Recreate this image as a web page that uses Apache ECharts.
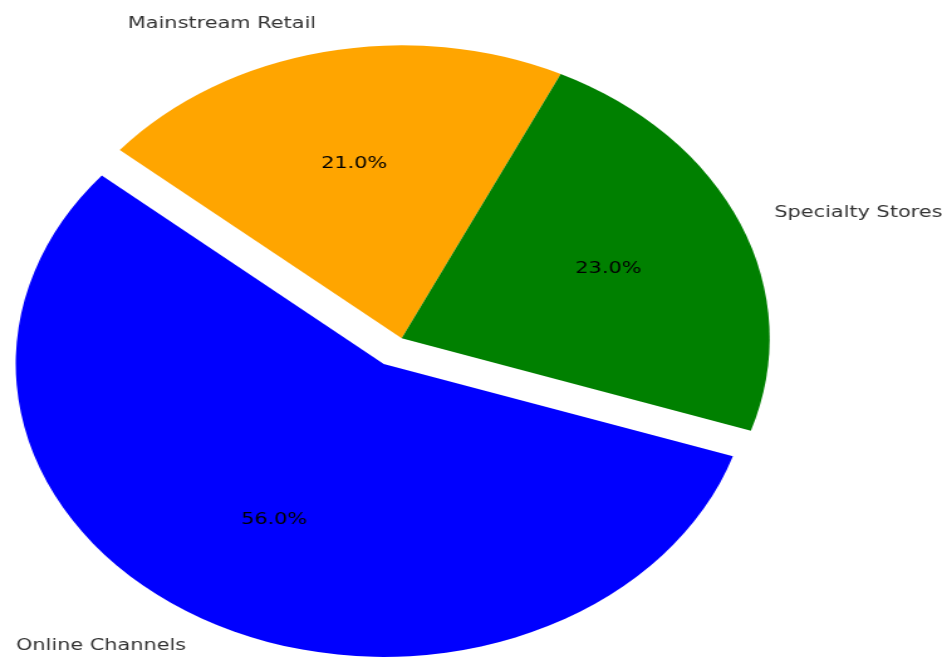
<!DOCTYPE html>
<html>
<head>
<meta charset="utf-8">
<script src="https://cdn.jsdelivr.net/npm/echarts@6/dist/echarts.min.js"></script>
<style>
  html, body { margin: 0; padding: 0; background: #fff; overflow: hidden; width: 942px; height: 657px; }
  /* the reference pie is an ellipse, so the chart is stretched sideways */
  #chart { position: absolute; left: 0; top: 0; width: 800px; height: 657px; transform: scaleX(1.256); transform-origin: 0 0; }
</style>
</head>
<body>
<div id="chart"></div>
<script>
  var categories = ['Mainstream Retail', 'Specialty Stores', 'Online Channels']
  var shares = [21, 23, 56]
  var colors = ['#ffa500', '#008000', '#0000ff']
  var exploded = [false, false, true]

  var R = 293 // pie radius
  var center = [319.8, 338.3]
  var offset = 0.1 * R // explode

  var total = shares.reduce(function (a, b) { return a + b }, 0)

  function items (transparent) {
    return categories.map(function (name, i) {
      return {
        name: name,
        value: shares[i],
        selected: exploded[i],
        itemStyle: {color: transparent ? 'rgba(0,0,0,0)' : colors[i]}
      }
    })
  }

  var chart = echarts.init(document.getElementById('chart'))
  chart.setOption({
    animation: false,
    series: [
      { // slices + names outside (1.1 R)
        type: 'pie',
        center: center,
        radius: R,
        startAngle: 140,
        clockwise: true,
        selectedMode: 'single',
        selectedOffset: offset,
        avoidLabelOverlap: false,
        emphasis: {disabled: true},
        label: {
          show: true,
          position: 'outside',
          distanceToLabelLine: 0,
          bleedMargin: 0,
          overflow: 'none',
          fontFamily: 'DejaVu Sans',
          fontSize: 16.6,
          color: '#333'
        },
        labelLine: {show: false, length: 0.1 * R, length2: 0},
        data: items(false)
      },
      { // percentages at 0.6 R (inside label of a 1.2 R ring)
        type: 'pie',
        silent: true,
        center: center,
        radius: 1.2 * R,
        startAngle: 140,
        clockwise: true,
        selectedMode: 'single',
        selectedOffset: offset,
        avoidLabelOverlap: false,
        emphasis: {disabled: true},
        label: {
          show: true,
          position: 'inside',
          fontFamily: 'DejaVu Sans',
          fontSize: 16.6,
          color: '#000',
          formatter: function (p) {
            return (p.value / total * 100).toFixed(1) + '%'
          }
        },
        labelLine: {show: false},
        data: items(true)
      }
    ]
  })
</script>
</body>
</html>
